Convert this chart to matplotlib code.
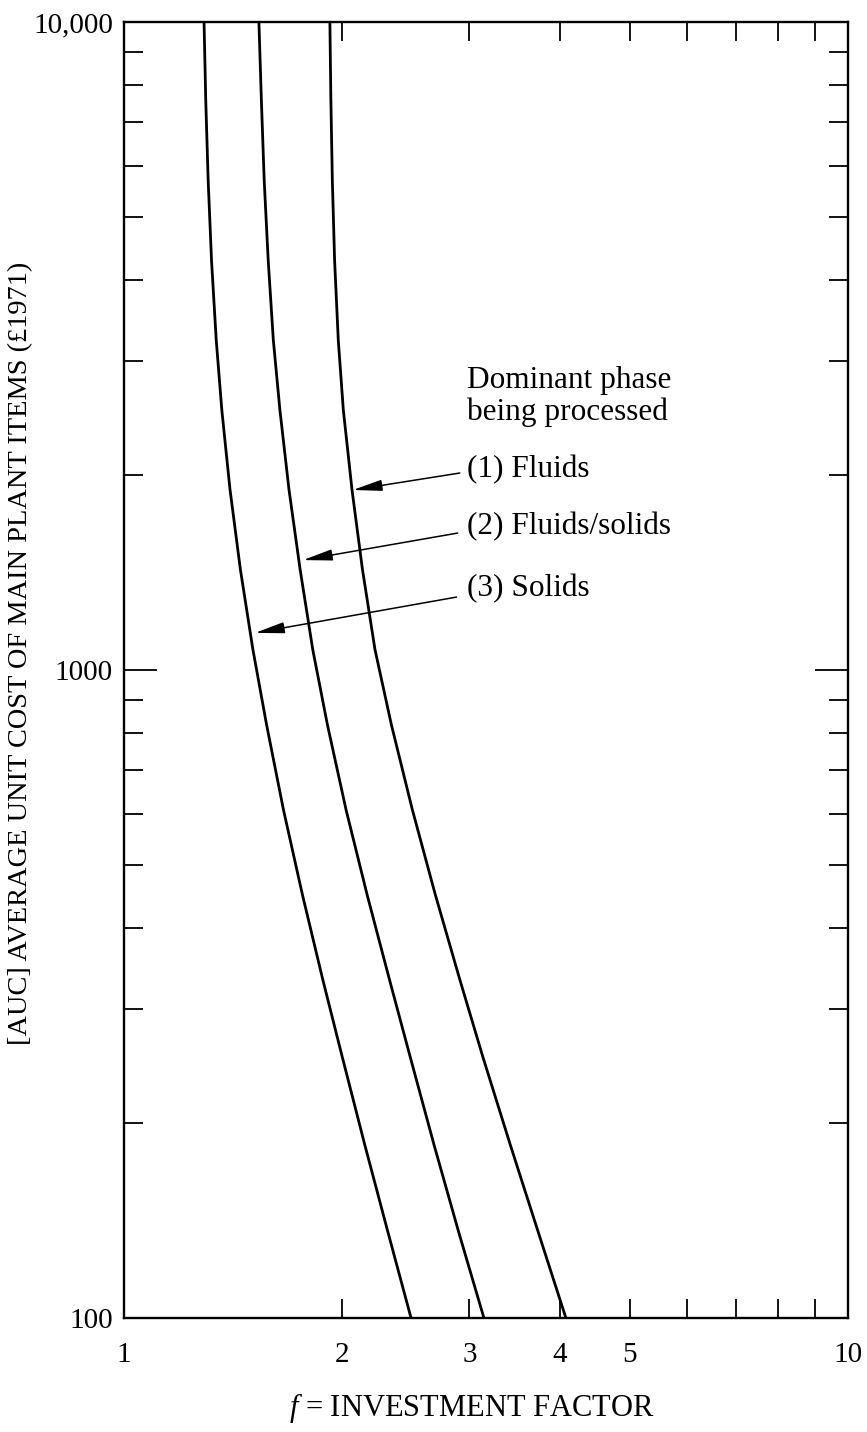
import matplotlib
matplotlib.use("Agg")
import matplotlib.pyplot as plt
from matplotlib.ticker import FixedLocator, FixedFormatter, NullFormatter

# Average unit cost of main plant items (1971 pounds) and the investment
# factor.
auc = [10000, 7580, 5700, 4290, 3230, 2520, 1900, 1430, 1075,
       823, 608, 450, 332, 253, 185, 136, 100]
f_fluids = [1.925, 1.931, 1.940, 1.954, 1.977, 2.009, 2.065, 2.135, 2.222,
            2.341, 2.503, 2.692, 2.912, 3.131, 3.417, 3.732, 4.078]
f_mixed = [1.536, 1.548, 1.562, 1.582, 1.608, 1.642, 1.690, 1.751, 1.823,
           1.910, 2.027, 2.167, 2.328, 2.485, 2.681, 2.898, 3.142]
f_solids = [1.290, 1.297, 1.307, 1.321, 1.341, 1.365, 1.401, 1.448, 1.507,
            1.574, 1.661, 1.764, 1.883, 2.002, 2.151, 2.314, 2.492]

phase_labels = ["(1) Fluids", "(2) Fluids/solids", "(3) Solids"]
label_pos = [(2.977, 2040), (2.977, 1662), (2.977, 1338)]
# arrow tip on each curve (f, AUC) and tail next to its label
arrow_tips = [(2.07, 1896), (1.767, 1478), (1.517, 1141)]
arrow_tails = [(2.91, 2014), (2.89, 1627), (2.88, 1296)]

x_major = [1, 2, 3, 4, 5, 10]
x_minor = [6, 7, 8, 9]
y_major = [100, 1000, 10000]
y_minor = [200, 300, 400, 500, 600, 700, 800, 900,
           2000, 3000, 4000, 5000, 6000, 7000, 8000, 9000]
y_tick_text = ["100", "1000", "10,000"]

plt.rcParams.update({
    "font.family": "Liberation Serif",
    "mathtext.fontset": "custom",
    "mathtext.it": "Liberation Serif:italic",
    "mathtext.rm": "Liberation Serif",
})

fig = plt.figure(figsize=(8.67, 14.32), dpi=100)
ax = fig.add_axes([0.143, 0.0796, 0.835, 0.905])

for fv in (f_fluids, f_mixed, f_solids):
    ax.plot(fv, auc, color="black", lw=2.0, solid_joinstyle="round")

ax.set_xscale("log")
ax.set_yscale("log")
ax.set_xlim(1, 10)
ax.set_ylim(100, 10000)

ax.xaxis.set_major_locator(FixedLocator(x_major))
ax.xaxis.set_major_formatter(FixedFormatter([str(v) for v in x_major]))
ax.xaxis.set_minor_locator(FixedLocator(x_minor))
ax.xaxis.set_minor_formatter(NullFormatter())
ax.yaxis.set_major_locator(FixedLocator(y_major))
ax.yaxis.set_major_formatter(FixedFormatter(y_tick_text))
ax.yaxis.set_minor_locator(FixedLocator(y_minor))
ax.yaxis.set_minor_formatter(NullFormatter())

ax.tick_params(which="both", direction="in", top=True, right=True,
               width=1.3, color="black", labelsize=21)
ax.tick_params(axis="x", which="both", length=14, pad=17)
ax.tick_params(axis="y", which="major", length=24, pad=8)
ax.tick_params(axis="y", which="minor", length=14)

for sp in ax.spines.values():
    sp.set_linewidth(1.7)

ax.set_xlabel(r"$\it{f}$ = INVESTMENT FACTOR", fontsize=22)
ax.xaxis.set_label_coords(0.48, -0.056)
ax.set_ylabel("[AUC] AVERAGE UNIT COST OF MAIN PLANT ITEMS (\u00a31971)",
              fontsize=20.4)
ax.yaxis.set_label_coords(-0.125, 0.513)

ax.text(2.977, 2640, "Dominant phase\nbeing processed", fontsize=22.5,
        ha="left", va="center", linespacing=1.12)

for lab, pos, tip, tail in zip(phase_labels, label_pos, arrow_tips, arrow_tails):
    ax.annotate("", xy=tip, xytext=tail,
                arrowprops=dict(arrowstyle="-|>,head_length=0.9,head_width=0.17",
                                mutation_scale=20, lw=1.1, color="black",
                                shrinkA=0, shrinkB=0))
    ax.text(pos[0], pos[1], lab, fontsize=22.5, ha="left", va="center")

fig.savefig("out.png", dpi=100)
